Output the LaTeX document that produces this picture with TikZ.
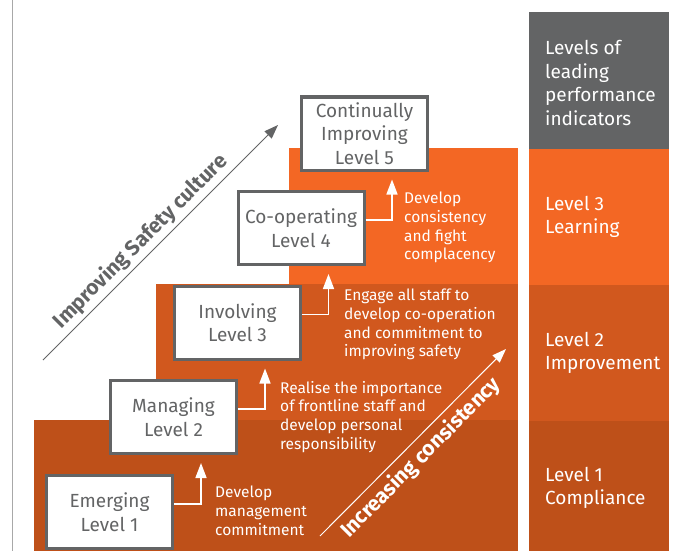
\documentclass[tikz,border=0pt]{standalone}
\usepackage{fontspec}
\setmainfont{Fira Sans}
\usetikzlibrary{arrows.meta,calc}
\definecolor{orA}{HTML}{F36724}
\definecolor{orB}{HTML}{D1581E}
\definecolor{orC}{HTML}{BE5019}
\definecolor{gr}{HTML}{636465}
\definecolor{edgegrey}{HTML}{A8A8A8}
\begin{document}
\begin{tikzpicture}[x=1pt,y=-1pt,
  lvbox/.style={draw=gr, line width=3pt, fill=white, text=gr, minimum width=126pt, minimum height=73pt, inner sep=0pt, align=center, font=\fontsize{19}{23.5}\selectfont},
  desc/.style={text=white, anchor=north west, inner sep=0pt, align=left, font=\fontsize{15.5}{18.7}\selectfont},
  side/.style={text=white, anchor=west, inner sep=0pt, align=left, font=\fontsize{19}{23.5}\selectfont},
  conn/.style={draw=white, line width=1.6pt, -{Triangle[length=15pt,width=11pt]}},
  diag/.style={font=\bfseries\fontsize{21}{25}\selectfont}
]
\useasboundingbox (0,0) rectangle (675,551);
% staircase
\fill[orA] (289,148) rectangle (518,285);
\fill[orB] (156,284) rectangle (518,421);
\fill[orC] (34,420) rectangle (518,551);
% right column
\fill[gr] (529,12) rectangle (669,149);
\fill[orA] (529,149) rectangle (669,285);
\fill[orB] (529,285) rectangle (669,421);
\fill[orC] (529,421) rectangle (669,551);
\draw[edgegrey, line width=1pt] (12,0) -- (12,551);
% boxes
\node[lvbox] (b1) at (109.5,512) {Emerging\\Level 1};
\node[lvbox] (b2) at (173.5,417) {Managing\\Level 2};
\node[lvbox] (b3) at (237.5,322.5) {Involving\\Level 3};
\node[lvbox] (b4) at (301,228) {Co-operating\\Level 4};
\node[lvbox] (b5) at (364.5,133.5) {Continually\\Improving\\Level 5};
% connectors
\draw[conn] ($(b1.east)+(0,-8)$) -| ($(b2.south east)+(-37,8)$);
\draw[conn] ($(b2.east)+(0,-8)$) -| ($(b3.south east)+(-37,8)$);
\draw[conn] ($(b3.east)+(0,-8)$) -| ($(b4.south east)+(-37,8)$);
\draw[conn] ($(b4.east)+(0,-8)$) -| ($(b5.south east)+(-37,8)$);
% descriptions
\node[desc] (d1) at (215,486) {Develop\\management\\commitment};
\node[desc] (d2) at (280,381) {Realise the importance\\of frontline staff and\\develop personal\\responsibility};
\node[desc] (d3) at (344,289) {Engage all staff to\\develop co-operation\\and commitment to\\improving safety};
\node[desc] (d4) at (404,192) {Develop\\consistency\\and fight\\complacency};
% side labels
\node[side] (s0) at (545,83) {Levels of\\leading\\performance\\indicators};
\node[side] (s3) at (545,217) {Level 3\\Learning};
\node[side] (s2) at (545,353) {Level 2\\Improvement};
\node[side] (s1) at (545,488) {Level 1\\Compliance};
% diagonal arrows
\coordinate (g0) at (43,360);
\coordinate (g1) at (278,125);
\draw[gr, line width=1pt, -{Triangle[length=14pt,width=10pt]}] (g0) -- (g1)
  node[pos=0.46, sloped, above, inner sep=3.5pt, text=gr, diag] (t1) {Improving Safety culture};
\coordinate (w0) at (320,536);
\coordinate (w1) at (506,349);
\draw[white, line width=1pt, -{Triangle[length=14pt,width=10pt]}] (w0) -- (w1)
  node[pos=0.48, sloped, below, inner sep=5pt, text=white, diag] (t2) {Increasing consistency};
\end{tikzpicture}
\end{document}
